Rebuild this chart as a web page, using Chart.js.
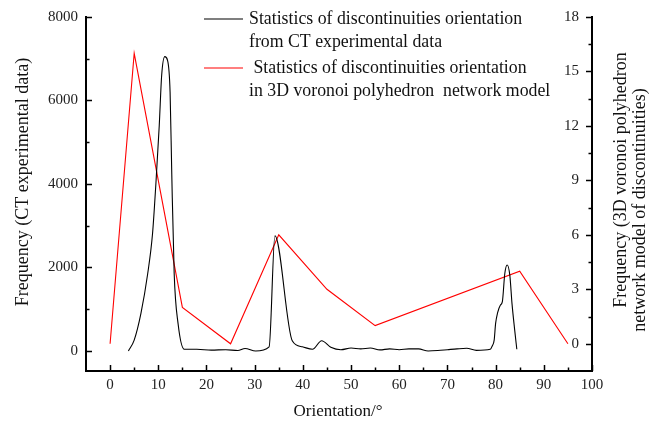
<!DOCTYPE html>
<html>
<head>
<meta charset="utf-8">
<script src="https://cdn.jsdelivr.net/npm/chart.js@4.4.1/dist/chart.umd.min.js"></script>
<style>
  html, body { margin: 0; padding: 0; background: #fff; }
  canvas { display: block; }
</style>
</head>
<body>
<canvas id="OrientationChart" width="653" height="429"></canvas>
<script>
// CT scan orientation histogram (left axis)
var ctAngle = [3.8, 5.0, 6.4, 7.8, 8.8, 9.5, 10.2, 10.7, 11.35, 11.9, 12.45, 12.8, 13.3, 14.1, 15.4,
  18, 21, 24, 26.5, 28, 30.2, 33, 34.2, 37.8, 39.9, 42, 43.9, 45.8, 47.9,
  50, 52, 54, 56, 58, 60, 62, 64, 66, 68, 70, 72, 74, 76, 78.9,
  79.3, 79.7, 80, 80.4, 81, 81.4, 81.9, 82.4, 82.95, 83.4, 83.96, 84.4];
var ctFreq = [0, 260, 900, 1850, 2800, 4000, 5400, 6600, 7050, 6970, 6200, 4230, 1850, 660, 40,
  40, 20, 30, 10, 60, 0, 100, 2760, 245, 100, 40, 245, 90, 30,
  70, 50, 70, 25, 50, 30, 50, 50, 0, 10, 30, 50, 64, 15, 40,
  120, 260, 660, 910, 1100, 1180, 1850, 2060, 1810, 1135, 500, 40];

// voronoi network model (right axis)
var modelAngle = [0, 5, 15, 25, 35, 45, 55, 85, 95];
var modelFreq = [0, 16, 2, 0, 6, 3, 1, 4, 0];

var xTicks = [0, 10, 20, 30, 40, 50, 60, 70, 80, 90, 100];
var leftTicks = [0, 2000, 4000, 6000, 8000];
var rightTicks = [0, 3, 6, 9, 12, 15, 18];

var serif = "'Liberation Serif', 'Times New Roman', serif";
var tickFont = { family: serif, size: 15 };

function pairs(xs, ys) {
  return xs.map(function (x, i) { return { x: x, y: ys[i] }; });
}

function fixedTicks(values) {
  return function (scale) {
    scale.ticks = values.map(function (v) { return { value: v }; });
  };
}

function plain(v) { return String(v); }

// inward tick marks, major + minor, and the right-hand labels sitting inside the frame
var tickMarks = {
  id: 'tickMarks',
  afterDraw: function (chart) {
    var ctx = chart.ctx;
    var a = chart.chartArea;
    var x = chart.scales.x, yl = chart.scales.y, yr = chart.scales.y2;
    ctx.save();
    ctx.strokeStyle = '#000';
    ctx.lineWidth = 1.5;
    ctx.beginPath();
    for (var v = 0; v <= 100; v += 5) {
      var px = Math.round(x.getPixelForValue(v)) + 0.5;
      var len = v % 10 === 0 ? 6 : 3.5;
      ctx.moveTo(px, a.bottom);
      ctx.lineTo(px, a.bottom - len);
    }
    for (var f = 0; f <= 8000; f += 1000) {
      var py = Math.round(yl.getPixelForValue(f)) + 0.5;
      var l2 = f % 2000 === 0 ? 6 : 3.5;
      ctx.moveTo(a.left, py);
      ctx.lineTo(a.left + l2, py);
    }
    for (var r = 0; r <= 18; r += 1.5) {
      var pr = Math.round(yr.getPixelForValue(r)) + 0.5;
      var l3 = r % 3 === 0 ? 6 : 3.5;
      ctx.moveTo(a.right, pr);
      ctx.lineTo(a.right - l3, pr);
    }
    ctx.stroke();

    ctx.fillStyle = '#222';
    ctx.font = tickFont.size + 'px ' + serif;
    ctx.textAlign = 'right';
    ctx.textBaseline = 'middle';
    rightTicks.forEach(function (t) {
      ctx.fillText(String(t), a.right - 13, yr.getPixelForValue(t));
    });
    ctx.restore();
  }
};

// axis titles and the two-entry legend
var annotations = {
  id: 'annotations',
  afterDraw: function (chart) {
    var ctx = chart.ctx;
    ctx.save();
    ctx.fillStyle = '#111';
    ctx.textAlign = 'center';
    ctx.textBaseline = 'middle';

    ctx.font = '17px ' + serif;
    ctx.fillText('Orientation/\u00b0', 338, 412);

    ctx.font = '18px ' + serif;
    ctx.save();
    ctx.translate(23, 182);
    ctx.rotate(-Math.PI / 2);
    ctx.fillText('Frequency (CT experimental data)', 0, 0);
    ctx.restore();

    ctx.save();
    ctx.translate(621, 180);
    ctx.rotate(-Math.PI / 2);
    ctx.fillText('Frequency (3D voronoi polyhedron', 0, 0);
    ctx.restore();
    ctx.save();
    ctx.translate(640, 210);
    ctx.rotate(-Math.PI / 2);
    ctx.fillText('network model of discontinuities)', 0, 0);
    ctx.restore();

    var entries = [
      { color: '#000', y: 19, lines: ['Statistics of discontinuities orientation', 'from CT experimental data'] },
      { color: '#ff0000', y: 68, lines: [' Statistics of discontinuities orientation', 'in 3D voronoi polyhedron  network model'] }
    ];
    ctx.font = '17.8px ' + serif;
    ctx.textAlign = 'left';
    entries.forEach(function (e) {
      ctx.strokeStyle = e.color;
      ctx.lineWidth = 1.2;
      ctx.beginPath();
      ctx.moveTo(204, e.y);
      ctx.lineTo(243, e.y);
      ctx.stroke();
      e.lines.forEach(function (t, i) {
        ctx.fillText(t, 249, e.y + i * 23.5);
      });
    });
    ctx.restore();
  }
};

new Chart(document.getElementById('OrientationChart'), {
  type: 'line',
  data: {
    datasets: [
      {
        label: 'Statistics of discontinuities orientation from CT experimental data',
        data: pairs(ctAngle, ctFreq),
        borderColor: '#000',
        borderWidth: 1.1,
        pointRadius: 0,
        cubicInterpolationMode: 'monotone',
        yAxisID: 'y'
      },
      {
        label: 'Statistics of discontinuities orientation in 3D voronoi polyhedron network model',
        data: pairs(modelAngle, modelFreq),
        borderColor: '#ff0000',
        borderWidth: 1.1,
        pointRadius: 0,
        tension: 0,
        yAxisID: 'y2'
      }
    ]
  },
  options: {
    responsive: false,
    animation: false,
    layout: { padding: { top: 14, left: 0, right: 0, bottom: 0 } },
    plugins: { legend: { display: false }, tooltip: { enabled: false } },
    scales: {
      x: {
        type: 'linear',
        position: 'bottom',
        min: -5,
        max: 100,
        afterBuildTicks: fixedTicks(xTicks),
        afterFit: function (s) { s.height = 58; },
        grid: { display: false, drawTicks: false },
        border: { display: true, color: '#000', width: 2 },
        ticks: { font: tickFont, color: '#222', padding: 5, maxRotation: 0, callback: plain }
      },
      y: {
        position: 'left',
        min: -480,
        max: 8000,
        afterBuildTicks: fixedTicks(leftTicks),
        afterFit: function (s) { s.width = 86; },
        grid: { display: false, drawTicks: false },
        border: { display: true, color: '#000', width: 2 },
        ticks: { font: tickFont, color: '#222', padding: 8, callback: plain }
      },
      y2: {
        position: 'right',
        min: -1.5,
        max: 18,
        afterBuildTicks: fixedTicks(rightTicks),
        afterFit: function (s) { s.width = 61; },
        grid: { display: false, drawTicks: false },
        border: { display: true, color: '#000', width: 2 },
        ticks: { display: false }
      }
    }
  },
  plugins: [tickMarks, annotations]
});
</script>
</body>
</html>
